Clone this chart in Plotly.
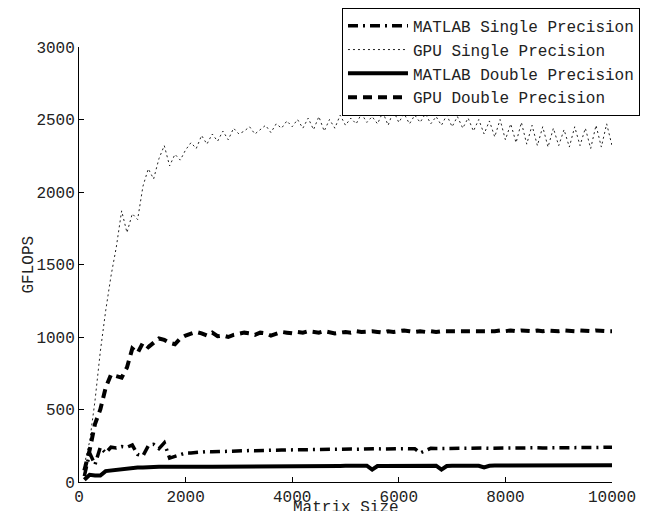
import plotly.graph_objects as go

matrix_size = list(range(100, 10001, 100))

gpu_single = [
    120, 280, 560, 900, 1180, 1420, 1620, 1870, 1720, 1850,
    1810, 2040, 2160, 2090, 2230, 2320, 2180, 2260, 2220, 2290,
    2340, 2300, 2390, 2330, 2400, 2350, 2420, 2360, 2440, 2400,
    2420, 2450, 2400, 2430, 2460, 2410, 2470, 2440, 2490, 2450,
    2500, 2440, 2510, 2430, 2520, 2420, 2500, 2440, 2530, 2460,
    2510, 2470, 2540, 2480, 2520, 2470, 2550, 2460, 2560, 2480,
    2540, 2470, 2530, 2480, 2540, 2470, 2520, 2460, 2530, 2450,
    2520, 2440, 2510, 2420, 2500, 2400, 2490, 2380, 2500, 2360,
    2470, 2340, 2480, 2330, 2460, 2320, 2450, 2310, 2440, 2320,
    2430, 2310, 2450, 2320, 2440, 2300, 2460, 2310, 2470, 2320,
]

gpu_double = [
    80, 220, 400, 500, 650, 740, 730, 720, 790, 920,
    890, 960, 930, 960, 990, 980, 960, 950, 990, 1010,
    1020, 1035, 1025, 1010, 1030, 1005, 1010, 1000, 1015, 1020,
    1030, 1025, 1015, 1030, 1025, 1010, 1020, 1035, 1030, 1025,
    1035, 1030, 1040, 1035, 1030, 1040, 1035, 1025, 1030, 1035,
    1030, 1040, 1035, 1040, 1040, 1035, 1030, 1040, 1035, 1040,
    1045, 1040, 1035, 1040, 1035, 1040, 1035, 1040, 1040, 1035,
    1040, 1040, 1035, 1040, 1040, 1035, 1040, 1040, 1045, 1040,
    1045, 1040, 1045, 1040, 1040, 1045, 1040, 1045, 1040, 1040,
    1045, 1040, 1040, 1045, 1040, 1040, 1045, 1040, 1040, 1040,
]

matlab_single = [
    40, 200, 120, 240, 200, 240, 235, 245, 240, 255,
    190, 180, 250, 260, 230, 270, 165, 175, 190, 200,
    200, 205, 205, 210, 208, 210, 212, 210, 213, 215,
    215, 217, 216, 218, 218, 220, 219, 220, 221, 222,
    222, 221, 223, 224, 223, 225, 224, 226, 225, 226,
    227, 226, 228, 227, 228, 229, 228, 230, 229, 230,
    230, 229, 230, 200, 215, 232, 231, 232, 233, 232,
    233, 232, 233, 234, 233, 234, 233, 234, 235, 234,
    235, 234, 235, 236, 235, 236, 235, 236, 237, 236,
    237, 236, 237, 238, 237, 238, 238, 239, 240, 240,
]

matlab_double = [
    15, 50, 45, 45, 75, 80, 85, 90, 95, 100,
    100, 100, 103, 104, 105, 105, 106, 106, 107, 107,
    107, 107, 106, 106, 105, 105, 106, 107, 107, 108,
    108, 108, 108, 109, 109, 109, 109, 110, 110, 110,
    110, 110, 110, 111, 111, 111, 111, 111, 111, 112,
    112, 112, 112, 112, 85, 110, 111, 111, 112, 112,
    112, 112, 112, 112, 112, 112, 112, 85, 110, 112,
    112, 112, 112, 112, 112, 100, 112, 113, 113, 113,
    113, 113, 113, 113, 113, 113, 114, 114, 114, 114,
    114, 114, 114, 115, 115, 115, 115, 116, 116, 116,
]

series_names = ["MATLAB Single Precision", "GPU Single Precision",
                "MATLAB Double Precision", "GPU Double Precision"]

x_ticks = [0, 2000, 4000, 6000, 8000, 10000]
y_ticks = [0, 500, 1000, 1500, 2000, 2500, 3000]

FONT = "Liberation Mono, Courier New, monospace"

fig = go.Figure()
fig.add_trace(go.Scatter(x=matrix_size, y=matlab_single, mode="lines", name=series_names[0],
                         legendgroup="a",
                         line=dict(color="black", width=3.5, dash="10px,5px,2px,5px")))
fig.add_trace(go.Scatter(x=matrix_size, y=gpu_single, mode="lines", name=series_names[1],
                         legendgroup="b",
                         line=dict(color="#222222", width=1, dash="2px,3px")))
fig.add_trace(go.Scatter(x=matrix_size, y=matlab_double, mode="lines", name=series_names[2],
                         legendgroup="c",
                         line=dict(color="black", width=4)))
fig.add_trace(go.Scatter(x=matrix_size, y=gpu_double, mode="lines", name=series_names[3],
                         legendgroup="d",
                         line=dict(color="black", width=4, dash="9px,6px")))

fig.update_layout(
    width=651, height=511,
    margin=dict(l=79, r=39, t=47, b=29, autoexpand=False),
    paper_bgcolor="white", plot_bgcolor="white",
    font=dict(family=FONT, size=16, color="#222222"),
    showlegend=True,
    legend=dict(
        x=1.0525, y=1.09, xanchor="right", yanchor="top",
        bgcolor="white", bordercolor="black", borderwidth=1,
        font=dict(family=FONT, size=16, color="#222222"),
        tracegroupgap=0, itemwidth=60,
    ),
    xaxis=dict(
        range=[0, 10000], tickvals=x_ticks, ticktext=[str(v) for v in x_ticks],
        ticks="inside", ticklen=5, tickcolor="black",
        showline=True, linecolor="black", linewidth=1,
        showgrid=False, zeroline=False, automargin=False,
    ),
    yaxis=dict(
        range=[0, 3000], tickvals=y_ticks, ticktext=[str(v) for v in y_ticks],
        ticks="inside", ticklen=5, tickcolor="black",
        showline=True, linecolor="black", linewidth=1,
        showgrid=False, zeroline=False, automargin=False,
    ),
    annotations=[
        dict(text="GFLOPS", textangle=-90, xref="paper", yref="paper",
             x=(28 - 79) / 533, y=0.5, xanchor="center", yanchor="middle",
             showarrow=False, font=dict(family=FONT, size=16, color="#222222")),
        dict(text="Matrix Size", xref="paper", yref="paper",
             x=0.5, y=(482 - 497) / 435, xanchor="center", yanchor="top",
             showarrow=False, font=dict(family=FONT, size=16, color="#222222")),
    ],
)

fig.write_html("out.html",
               config={"displayModeBar": False},
               post_script="document.body.style.margin='0';document.body.style.padding='0';")
